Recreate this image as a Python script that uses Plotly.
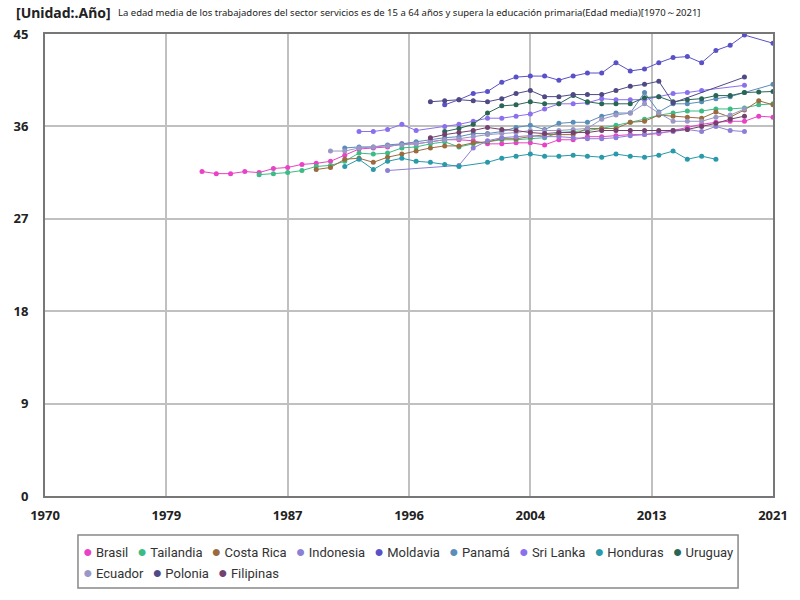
import plotly.graph_objects as go

# Edad media por país (años)
brasil_years = list(range(1981, 2022))
brasil = [31.6, 31.4, 31.4, 31.6, 31.5, 31.9, 32.0, 32.3, 32.4, 32.6, 33.2, 33.8, 33.9, 34.0,
          34.3, 34.3, 34.5, 34.7, 34.7, 34.6, 34.3, 34.3, 34.4, 34.4, 34.2, 34.7, 34.7, 35.0,
          35.0, 35.1, 35.2, 35.2, 35.3, 35.6, 35.9, 36.2, 36.4, 36.5, 36.5, 37.0, 36.9]

tailandia_years = list(range(1985, 2022))
tailandia = [31.3, 31.4, 31.5, 31.7, 32.1, 32.2, 32.6, 33.4, 33.3, 33.4, 33.9, 34.0, 34.3,
             34.5, 34.0, 34.3, 34.5, 34.7, 34.7, 34.8, 34.9, 35.4, 35.5, 35.6, 35.8, 36.1,
             36.4, 36.7, 37.1, 37.3, 37.5, 37.5, 37.7, 37.7, 37.8, 38.1, 38.2]

costa_rica_years = list(range(1989, 2022))
costa_rica = [31.8, 32.0, 32.8, 32.9, 32.5, 33.0, 33.3, 33.6, 33.9, 34.1, 34.1, 34.4, 34.5,
              34.8, 34.8, 35.0, 35.2, 35.2, 35.2, 35.8, 35.8, 35.8, 36.4, 36.5, 37.1, 37.0,
              36.9, 36.8, 37.4, 36.9, 37.6, 38.5, 38.1]

indonesia_years = [1994, 1999, 2000, 2001, 2002, 2003, 2004, 2005, 2006, 2007, 2008, 2009,
                   2010, 2011, 2012, 2013, 2014, 2015, 2016, 2017, 2018, 2019]
indonesia = [31.7, 32.2, 33.9, 34.6, 34.9, 35.0, 35.1, 35.0, 35.0, 34.9, 34.8, 34.8,
             34.9, 35.1, 35.2, 35.4, 35.5, 35.7, 35.5, 36.0, 35.6, 35.5]

moldavia_years = list(range(1998, 2020)) + [2021]
moldavia = [38.1, 38.6, 39.2, 39.4, 40.3, 40.8, 40.9, 40.9, 40.5, 40.9, 41.2, 41.2, 42.2,
            41.4, 41.6, 42.2, 42.7, 42.8, 42.2, 43.4, 43.9, 44.9, 44.1]

panama_years = list(range(1991, 2020)) + [2021]
panama = [33.9, 34.0, 34.0, 34.2, 34.3, 34.5, 34.7, 34.9, 35.0, 35.3, 35.3, 35.5, 35.9,
          36.1, 35.7, 36.3, 36.4, 36.4, 37.0, 37.3, 37.3, 39.3, 37.4, 38.2, 38.2, 38.4,
          38.7, 38.9, 39.3, 40.1]

sri_lanka_years = [1992, 1993, 1994, 1995, 1996, 1998, 1999, 2000, 2001, 2002, 2003, 2004,
                   2005, 2006, 2007, 2008, 2009, 2010, 2011, 2012, 2013, 2014, 2015, 2016, 2019]
sri_lanka = [35.5, 35.5, 35.7, 36.2, 35.6, 36.0, 36.2, 36.5, 36.8, 36.8, 37.0, 37.2,
             37.7, 38.2, 38.2, 38.3, 38.7, 38.6, 38.6, 38.6, 38.9, 39.2, 39.3, 39.5, 40.0]

honduras_years = [1991, 1992, 1993, 1994, 1995, 1996, 1997, 1998, 1999, 2001, 2002, 2003,
                  2004, 2005, 2006, 2007, 2008, 2009, 2010, 2011, 2012, 2013, 2014, 2015,
                  2016, 2017]
honduras = [32.1, 32.8, 31.8, 32.6, 32.9, 32.6, 32.5, 32.3, 32.1, 32.5, 32.9, 33.1,
            33.3, 33.1, 33.1, 33.2, 33.1, 33.0, 33.3, 33.1, 33.0, 33.2, 33.6, 32.8,
            33.1, 32.8]

uruguay_years = list(range(1998, 2022))
uruguay = [35.5, 35.8, 36.2, 37.3, 38.0, 38.1, 38.4, 38.2, 38.2, 39.0, 38.4, 38.2, 38.2,
           38.2, 38.8, 38.9, 38.4, 38.6, 38.7, 39.0, 39.0, 39.3, 39.35, 39.4]

ecuador_years = list(range(1990, 2020))
ecuador = [33.6, 33.6, 33.9, 34.0, 34.1, 34.2, 34.3, 34.5, 34.7, 34.8, 35.0, 35.2, 35.3,
           35.4, 35.6, 35.6, 35.6, 35.7, 35.8, 36.7, 37.1, 37.3, 38.2, 37.3, 36.5, 36.5,
           36.5, 36.9, 37.1, 37.7]

polonia_years = list(range(1997, 2015)) + [2019]
polonia = [38.4, 38.5, 38.6, 38.5, 38.4, 38.7, 39.2, 39.5, 38.9, 38.9, 39.1, 39.1, 39.1,
           39.5, 39.9, 40.1, 40.4, 38.3, 40.8]

filipinas_years = list(range(1997, 2020))
filipinas = [34.9, 35.2, 35.4, 35.6, 35.9, 35.7, 35.6, 35.4, 35.3, 35.4, 35.4, 35.4, 35.6,
             35.6, 35.6, 35.6, 35.6, 35.6, 35.7, 36.0, 36.3, 36.7, 37.0]

series = [
    ("Brasil", brasil_years, brasil, "#e843c6"),
    ("Tailandia", tailandia_years, tailandia, "#3dbb84"),
    ("Costa Rica", costa_rica_years, costa_rica, "#9a6b3f"),
    ("Indonesia", indonesia_years, indonesia, "#8c80d6"),
    ("Moldavia", moldavia_years, moldavia, "#5a50c8"),
    ("Panamá", panama_years, panama, "#5b8db8"),
    ("Sri Lanka", sri_lanka_years, sri_lanka, "#8a70ee"),
    ("Honduras", honduras_years, honduras, "#2a99aa"),
    ("Uruguay", uruguay_years, uruguay, "#2a6656"),
    ("Ecuador", ecuador_years, ecuador, "#9a96c6"),
    ("Polonia", polonia_years, polonia, "#4f4a86"),
    ("Filipinas", filipinas_years, filipinas, "#74416e"),
]

fig = go.Figure()
for name, xs, ys, color in series:
    fig.add_trace(go.Scatter(
        x=xs, y=ys, mode="lines+markers", name=name, showlegend=False,
        line=dict(color=color, width=1),
        marker=dict(color=color, size=5),
    ))

# compact legend (dot + name), two rows like the original
def legend_row(items):
    parts = ['<span style="color:%s;font-size:16px">●</span>\u00a0%s' % (c, n)
             for n, _, _, c in items]
    return "\u00a0\u00a0\u2009".join(parts)

legend_rows = [legend_row(series[:9]), legend_row(series[9:])]

x_ticks = [1970, 1978.5, 1987, 1995.5, 2004, 2012.5, 2021]
x_labels = ["1970", "1979", "1987", "1996", "2004", "2013", "2021"]

annotations = [
    dict(text="[Unidad:.Año]", x=0, y=1.0, xref="paper", yref="paper",
         xanchor="left", yanchor="top", showarrow=False,
         font=dict(size=14, color="#222222", weight="bold"), yshift=33, xshift=-31),
    dict(text="La edad media de los trabajadores del sector servicios es de 15 a 64 años y supera la educación primaria(Edad media)[1970～2021]",
         x=0.5, y=1.0, xref="paper", yref="paper", xanchor="center",
         yanchor="bottom", showarrow=False, yshift=13,
         font=dict(size=9.5, color="#222222")),
]
for i, row in enumerate(legend_rows):
    annotations.append(dict(
        text=row, x=0.05, y=-0.121 - i * 0.0445, xref="paper", yref="paper",
        xanchor="left", yanchor="middle", showarrow=False, align="left",
        font=dict(family="Roboto", size=13, color="#333333"),
    ))

fig.update_layout(
    width=800, height=600,
    font=dict(family="Noto Sans", size=12, color="#333333"),
    paper_bgcolor="white", plot_bgcolor="white",
    margin=dict(l=45, r=27, t=34, b=104),
    xaxis=dict(range=[1970, 2021], tickvals=x_ticks, ticktext=x_labels,
               showgrid=True, gridcolor="#c0c0c0", gridwidth=1.5,
               showline=True, linecolor="#777777", linewidth=2, mirror=True,
               zeroline=False, ticklabelstandoff=6,
               tickfont=dict(size=13, color="#222222", weight="bold")),
    yaxis=dict(range=[0, 45], tickvals=[0, 9, 18, 27, 36, 45],
               showgrid=True, gridcolor="#c0c0c0", gridwidth=1.5,
               showline=True, linecolor="#777777", linewidth=2, mirror=True,
               zeroline=False, ticklabelstandoff=12,
               tickfont=dict(size=13, color="#222222", weight="bold")),
    showlegend=False,
    annotations=annotations,
    shapes=[dict(type="rect", xref="paper", yref="paper",
                 x0=0.0453, x1=0.952, y0=-0.199, y1=-0.0844,
                 line=dict(color="#888888", width=1.5), fillcolor="rgba(0,0,0,0)")],
)

fig.write_html("out.html", config={"displayModeBar": False},
               post_script="document.body.style.margin='0px';")
